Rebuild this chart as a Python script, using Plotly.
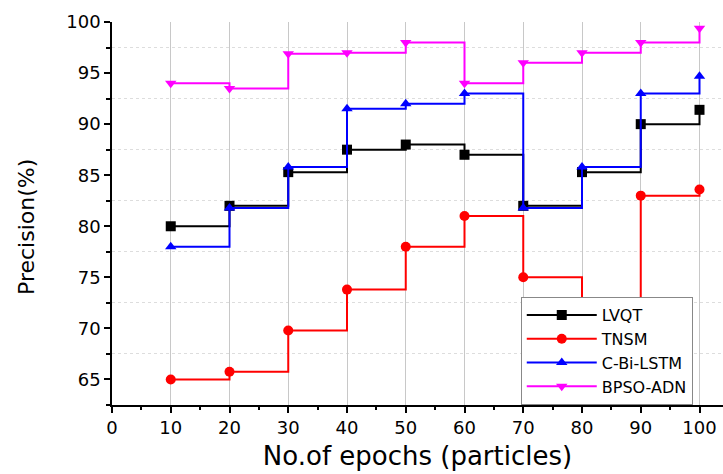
import plotly.graph_objects as go

epochs = [10, 20, 30, 40, 50, 60, 70, 80, 90, 100]
lvqt = [80, 82, 85.3, 87.5, 88, 87, 82, 85.3, 90, 91.4]
tnsm = [65, 65.75, 69.8, 73.8, 78, 81, 75, 64, 83, 83.6]
cbilstm = [78, 81.8, 85.8, 91.5, 92, 93, 81.8, 85.8, 93, 94.7]
bpso = [94, 93.5, 96.9, 97, 98, 94, 96, 97, 98, 99.4]

series = [
    ("LVQT", lvqt, "#000000", "square"),
    ("TNSM", tnsm, "#ff0000", "circle"),
    ("C-Bi-LSTM", cbilstm, "#0000ff", "triangle-up"),
    ("BPSO-ADN", bpso, "#ff00ff", "triangle-down"),
]

fig = go.Figure()
for name, vals, color, sym in series:
    fig.add_trace(go.Scatter(
        x=epochs, y=vals, name=name, mode="lines+markers",
        line=dict(color=color, width=2, shape="hv"),
        marker=dict(symbol=sym, size=10, color=color),
    ))

font = "DejaVu Sans, Arial, sans-serif"
fig.update_layout(
    width=723, height=474,
    margin=dict(l=112, r=0, t=22, b=69),
    plot_bgcolor="white", paper_bgcolor="white",
    font=dict(family=font, color="black"),
    showlegend=True,
    legend=dict(
        x=0.669, y=0.282, xanchor="left", yanchor="top",
        bgcolor="white", bordercolor="#888888", borderwidth=1,
        font=dict(size=16, family=font, color="black"),
        tracegroupgap=0, itemwidth=70,
    ),
    annotations=[dict(
        text="Precision(%)", textangle=-90, showarrow=False,
        xref="paper", yref="paper", x=-0.139, y=0.465,
        xanchor="center", yanchor="middle",
        font=dict(size=22, family=font, color="black"),
    )],
)
fig.update_xaxes(
    range=[0, 104], tickmode="array", tickvals=list(range(0, 101, 10)),
    showline=True, linecolor="black", linewidth=1.5,
    ticks="outside", ticklen=6, tickwidth=1.5, tickcolor="black",
    showgrid=True, gridcolor="#c8c8c8", gridwidth=1.2,
    zeroline=False, automargin=False,
    minor=dict(dtick=5, ticks="outside", ticklen=3, tickcolor="black", showgrid=False),
    tickfont=dict(size=18),
    title=dict(text="No.of epochs (particles)", font=dict(size=26), standoff=9),
)
fig.update_yaxes(
    range=[62.5, 100], tickmode="array", tickvals=[65, 70, 75, 80, 85, 90, 95, 100],
    showline=True, linecolor="black", linewidth=1.5,
    ticks="outside", ticklen=6, tickwidth=1.5, tickcolor="black",
    showgrid=False, zeroline=False, automargin=False,
    minor=dict(tickvals=[62.5, 67.5, 72.5, 77.5, 82.5, 87.5, 92.5, 97.5],
               ticks="outside", ticklen=4, tickcolor="black",
               showgrid=True, gridcolor="#dddddd", griddash="dot", gridwidth=1),
    tickfont=dict(size=18),
)
fig.write_html("out.html", config={"displayModeBar": False},
               post_script="document.body.style.margin='0';document.body.style.overflow='hidden';")
